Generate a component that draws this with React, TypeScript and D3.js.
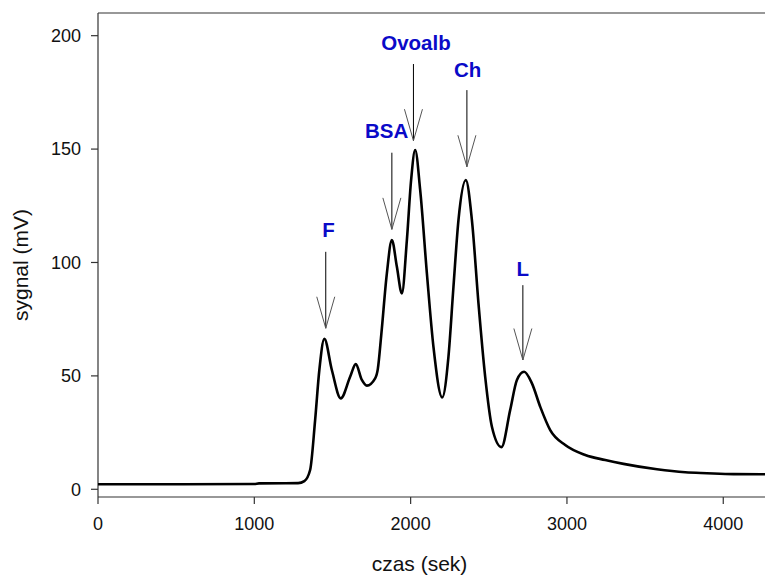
import React from "react";
import * as d3 from "d3";

const timeSec = [0, 1000, 1030, 1280, 1320, 1357, 1389, 1416, 1448, 1496, 1553, 1613, 1649, 1688, 1720, 1773, 1790, 1812, 1848, 1880, 1912, 1944, 1976, 2003, 2029, 2061, 2104, 2146, 2202, 2242, 2274, 2306, 2353, 2392, 2434, 2477, 2520, 2581, 2637, 2680, 2726, 2776, 2829, 2893, 2989, 3117, 3245, 3362, 3576, 3757, 3896, 4066, 4267];
const signalMV = [2.2, 2.3, 2.6, 2.7, 3.6, 8.5, 30.5, 52.6, 66.3, 52.6, 40.1, 49.6, 55.2, 48.2, 45.7, 48.9, 53.0, 68.0, 95.2, 109.9, 98.1, 86.4, 109.9, 136.3, 149.6, 132.0, 95.2, 62.8, 40.5, 58.5, 89.3, 118.7, 136.3, 118.7, 82.0, 49.6, 27.6, 18.6, 35.0, 48.2, 51.8, 46.7, 36.4, 26.1, 19.5, 15.1, 12.9, 11.2, 8.8, 7.5, 7.1, 6.7, 6.6];

const xTicks = [0, 1000, 2000, 3000, 4000];
const yTicks = [0, 50, 100, 150, 200];

const peakLabels = ["F", "BSA", "Ovoalb", "Ch", "L"];
const peakLabelX = [1474, 1847, 2034, 2365, 2718];
const peakLabelY = [111.3, 155, 193.5, 182, 94];
const arrowX = [1457, 1880, 2018, 2360, 2718];
const arrowTop = [104.7, 148.4, 187.5, 176, 90];
const arrowTip = [71, 114.6, 153.7, 142.2, 57];

export default function App() {
  const W = 765, H = 575;
  const left = 98, right = 765, top = 13, bottom = 497;
  const x = d3.scaleLinear().domain([0, 4267]).range([left, right]);
  const y = d3.scaleLinear().domain([-3.4, 210]).range([bottom, top]);
  const pts = timeSec.map((t, i) => [t, signalMV[i]] as [number, number]);
  const line = d3.line<[number, number]>()
    .x(d => x(d[0]))
    .y(d => y(d[1]))
    .curve(d3.curveMonotoneX);
  const font = "Arial, 'Liberation Sans', sans-serif";
  return (
    <svg width={W} height={H} style={{ position: "absolute", left: 0, top: 0, background: "#fff" }} fontFamily={font}>
      <rect x={0} y={0} width={W} height={H} fill="#fff" />
      <line x1={left} x2={right} y1={top} y2={top} stroke="#333" strokeWidth={1.2} />
      <line x1={left} x2={left} y1={top} y2={bottom} stroke="#333" strokeWidth={1.2} />
      <line x1={left} x2={right} y1={bottom} y2={bottom} stroke="#333" strokeWidth={1.2} />
      {yTicks.map(v => (
        <g key={"y" + v}>
          <line x1={left - 7} x2={left} y1={y(v)} y2={y(v)} stroke="#333" strokeWidth={1.2} />
          <text x={left - 17} y={y(v)} dy="0.35em" textAnchor="end" fontSize={18} fill="#111">{v}</text>
        </g>
      ))}
      {xTicks.map(v => (
        <g key={"x" + v}>
          <line x1={x(v)} x2={x(v)} y1={bottom} y2={bottom + 7} stroke="#333" strokeWidth={1.2} />
          <text x={x(v)} y={bottom + 27} dy="0.35em" textAnchor="middle" fontSize={18} fill="#111">{v}</text>
        </g>
      ))}
      <text transform={`translate(28,${(top + bottom) / 2 + 10}) rotate(-90)`} textAnchor="middle" fontSize={21} fill="#111">sygnal (mV)</text>
      <text x={(left + right) / 2 - 12} y={571} textAnchor="middle" fontSize={21} fill="#111">czas (sek)</text>
      <path d={line(pts) || ""} fill="none" stroke="#000" strokeWidth={2.6} strokeLinejoin="round" />
      {peakLabels.map((lab, i) => {
        const ax = x(arrowX[i]);
        const ty = y(arrowTip[i]);
        return (
          <g key={lab}>
            <line x1={ax} x2={ax} y1={y(arrowTop[i])} y2={ty} stroke="#000" strokeWidth={1} />
            <line x1={ax - 9} x2={ax} y1={ty - 31.5} y2={ty} stroke="#555" strokeWidth={1} />
            <line x1={ax + 9} x2={ax} y1={ty - 31.5} y2={ty} stroke="#555" strokeWidth={1} />
            <text x={x(peakLabelX[i])} y={y(peakLabelY[i])} textAnchor="middle" fontSize={20.5} fontWeight="bold" fill="#0a0ac8">{lab}</text>
          </g>
        );
      })}
    </svg>
  );
}
